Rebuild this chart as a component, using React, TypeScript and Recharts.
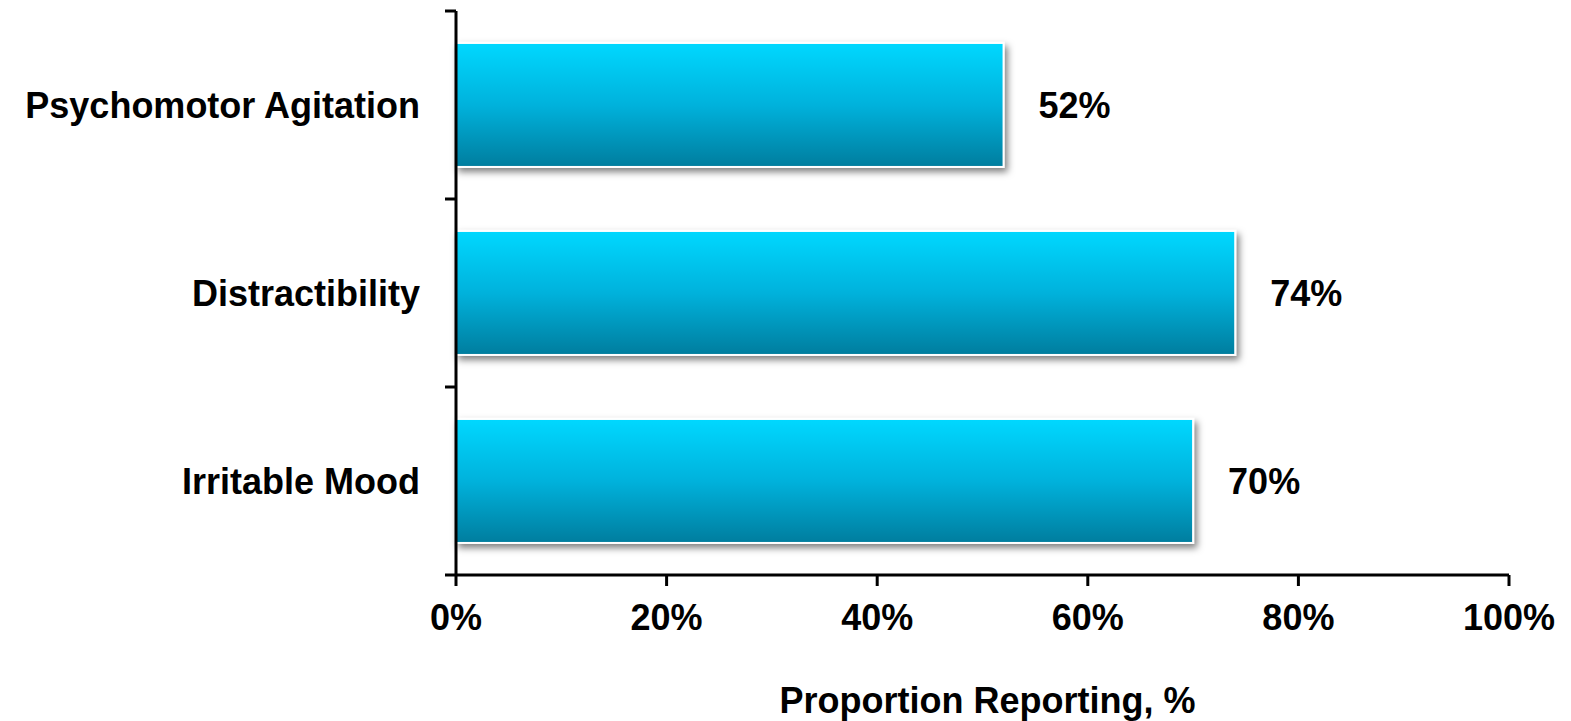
import React from "react";
import { BarChart, Bar, XAxis, YAxis, LabelList } from "recharts";

const categories = ["Psychomotor Agitation", "Distractibility", "Irritable Mood"];
const proportions = [52, 74, 70];
const xTicks = [0, 20, 40, 60, 80, 100];

const data = categories.map((name, i) => ({ name, value: proportions[i] }));

const FONT = "'Liberation Sans', Arial, sans-serif";
const FONT_SIZE = 36;
const TICK_SIZE = 11;
const Y_TICK_MARGIN = 25;

// label at band centre, tick mark at band edges (like the original)
const CategoryTick = (props: any) => {
  const { x, y, payload, index, visibleTicksCount } = props;
  const half = payload?.offset || 0;
  const axisX = x + TICK_SIZE + Y_TICK_MARGIN;
  const isLast = index === visibleTicksCount - 1;
  return (
    <g>
      <line x1={axisX - TICK_SIZE} x2={axisX} y1={y - half} y2={y - half} stroke="#000" strokeWidth={3} />
      {isLast && (
        <line x1={axisX - TICK_SIZE} x2={axisX} y1={y + half} y2={y + half} stroke="#000" strokeWidth={3} />
      )}
      <text x={x} y={y} dy="0.35em" textAnchor="end" fill="#000" fontSize={FONT_SIZE} fontWeight="bold" fontFamily={FONT}>
        {payload.value}
      </text>
    </g>
  );
};

const GradientBar = (props: any) => {
  const { x, y, width, height } = props;
  return (
    <rect
      x={x}
      y={y}
      width={width}
      height={height}
      fill="url(#barFill)"
      stroke="#fff"
      strokeWidth={2}
      filter="url(#barShadow)"
    />
  );
};

export default function App() {
  return (
    <div style={{ width: 1571, height: 721, background: "#fff" }}>
      <style>{"body{margin:0}"}</style>
      <BarChart
        width={1571}
        height={721}
        data={data}
        layout="vertical"
        barCategoryGap="17%"
        margin={{ top: 11, right: 62, bottom: 0, left: 0 }}
      >
        <defs>
          <linearGradient id="barFill" x1="0" y1="0" x2="0" y2="1">
            <stop offset="0%" stopColor="#00d8ff" />
            <stop offset="50%" stopColor="#00b2dc" />
            <stop offset="100%" stopColor="#007d9e" />
          </linearGradient>
          <filter id="barShadow" x="-10%" y="-20%" width="120%" height="150%">
            <feDropShadow dx="3" dy="4" stdDeviation="3.5" floodColor="#000" floodOpacity="0.5" />
          </filter>
        </defs>
        <XAxis
          type="number"
          domain={[0, 100]}
          ticks={xTicks}
          tickFormatter={(v) => `${v}%`}
          axisLine={{ stroke: "#000", strokeWidth: 3 }}
          tickLine={{ stroke: "#000", strokeWidth: 3 }}
          tickSize={TICK_SIZE}
          tickMargin={18}
          tick={{ fill: "#000", fontSize: FONT_SIZE, fontWeight: "bold", fontFamily: FONT }}
          height={146}
          label={{
            value: "Proportion Reporting, %",
            position: "insideBottom",
            offset: 8,
            dx: 5,
            fill: "#000",
            fontSize: FONT_SIZE,
            fontWeight: "bold",
            fontFamily: FONT,
          }}
        />
        <YAxis
          type="category"
          dataKey="name"
          width={456}
          axisLine={{ stroke: "#000", strokeWidth: 3 }}
          tickLine={false}
          tickSize={TICK_SIZE}
          tickMargin={Y_TICK_MARGIN}
          tick={<CategoryTick />}
        />
        <Bar dataKey="value" shape={<GradientBar />} isAnimationActive={false}>
          <LabelList
            dataKey="value"
            position="right"
            offset={35}
            formatter={(v: any) => `${v}%`}
            fill="#000"
            fontSize={FONT_SIZE}
            fontWeight="bold"
            fontFamily={FONT}
          />
        </Bar>
      </BarChart>
    </div>
  );
}
